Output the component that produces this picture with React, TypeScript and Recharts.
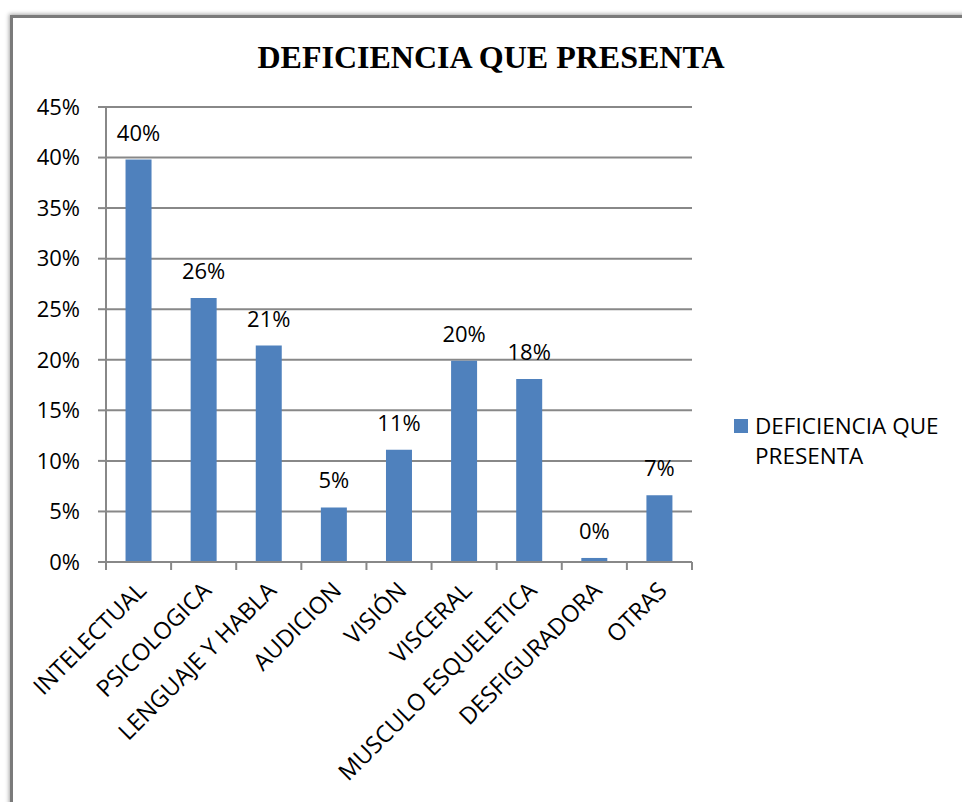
import { Bar, BarChart, CartesianGrid, LabelList, Legend, XAxis, YAxis } from 'recharts'

const categories = [
  'INTELECTUAL',
  'PSICOLOGICA',
  'LENGUAJE Y HABLA',
  'AUDICION',
  'VISIÓN',
  'VISCERAL',
  'MUSCULO ESQUELETICA',
  'DESFIGURADORA',
  'OTRAS',
]
const values = [0.398, 0.261, 0.214, 0.054, 0.111, 0.199, 0.181, 0.004, 0.066]
const yTicks = [0, 0.05, 0.1, 0.15, 0.2, 0.25, 0.3, 0.35, 0.4, 0.45]
const seriesName = 'DEFICIENCIA QUE PRESENTA'
const title = 'DEFICIENCIA QUE PRESENTA'

const data = categories.map((name, i) => ({ name, value: values[i] }))

const W = 962
const H = 802
const margin = { top: 107, right: 270, bottom: 10, left: 0 }
const yAxisWidth = 106
const band = (W - margin.left - margin.right - yAxisWidth) / categories.length
const font = '"Open Sans", sans-serif'
const blue = '#4f81bd'
const grid = '#888888'

const pct = (v: number) => `${Math.round(v * 100)}%`

function CategoryTick(props: any) {
  const { x, y, payload, index } = props
  const last = index === categories.length - 1
  const ax = x + 9
  const ay = y + 30
  return (
    <g>
      <line x1={x - band / 2} y1={y} x2={x - band / 2} y2={y + 8} stroke={grid} strokeWidth={2} />
      {last && <line x1={x + band / 2} y1={y} x2={x + band / 2} y2={y + 8} stroke={grid} strokeWidth={2} />}
      <text
        x={ax}
        y={ay}
        textAnchor="end"
        fontSize={23.5}
        fontFamily={font}
        fill="#000"
        transform={`rotate(-45, ${ax}, ${ay})`}
      >
        {payload.value}
      </text>
    </g>
  )
}

function LegendBox() {
  return (
    <div style={{ display: 'flex', alignItems: 'flex-start', fontFamily: font, fontSize: 22.5, lineHeight: '30px' }}>
      <span style={{ width: 14, height: 14, marginTop: 8, background: blue, flex: 'none' }} />
      <span style={{ marginLeft: 7, width: 205, color: '#000', textAlign: 'left' }}>{seriesName}</span>
    </div>
  )
}

export default function App() {
  return (
    <div style={{ position: 'absolute', left: 0, top: 0, width: W, height: H, overflow: 'hidden', background: '#fff' }}>
      <div
        style={{
          position: 'absolute',
          left: 10,
          top: 15,
          width: W,
          height: H,
          border: '3px solid #7a7a7a',
          boxShadow: '0 0 4px 1px rgba(0,0,0,0.35)',
          background: '#fff',
        }}
      />
      <div
        style={{
          position: 'absolute',
          left: 10,
          top: 41,
          width: 962,
          textAlign: 'center',
          fontFamily: '"Liberation Serif", "Times New Roman", serif',
          fontWeight: 'bold',
          fontSize: 32,
          lineHeight: '32px',
          color: '#000',
        }}
      >
        {title}
      </div>
      <div style={{ position: 'absolute', left: 0, top: 0 }}>
        <BarChart width={W} height={H} data={data} margin={margin} barCategoryGap="30%">
          <CartesianGrid vertical={false} stroke={grid} strokeWidth={2} />
          <XAxis
            dataKey="name"
            interval={0}
            height={230}
            tickLine={false}
            tickSize={0}
            tickMargin={0}
            axisLine={{ stroke: grid, strokeWidth: 2 }}
            tick={<CategoryTick />}
          />
          <YAxis
            width={yAxisWidth}
            domain={[0, 0.45]}
            ticks={yTicks}
            tickFormatter={pct}
            tickSize={8}
            tickMargin={18}
            axisLine={{ stroke: grid, strokeWidth: 2 }}
            tickLine={{ stroke: grid, strokeWidth: 2 }}
            tick={{ fontSize: 22, fontFamily: font, fill: '#000' }}
          />
          <Legend
            align="center"
            verticalAlign="middle"
            wrapperStyle={{ left: 734, top: 411, width: 230 }}
            content={<LegendBox />}
          />
          <Bar dataKey="value" name={seriesName} fill={blue} isAnimationActive={false}>
            <LabelList
              dataKey="value"
              position="top"
              offset={19}
              formatter={(v: any) => pct(Number(v))}
              fontSize={22}
              fontFamily={font}
              fill="#000"
            />
          </Bar>
        </BarChart>
      </div>
    </div>
  )
}
